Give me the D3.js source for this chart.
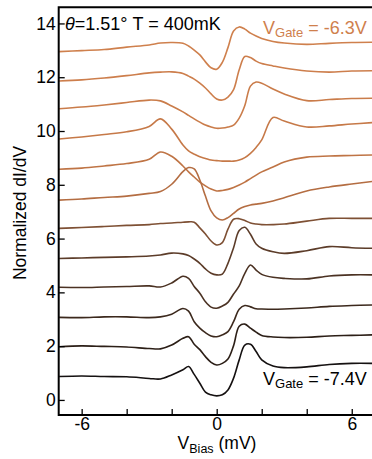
<!DOCTYPE html>
<html><head><meta charset="utf-8">
<script src="https://cdn.jsdelivr.net/npm/d3@7"></script>
<style>
html,body{margin:0;padding:0;background:#fff;}
svg{display:block;font-family:"Liberation Sans",Arial,sans-serif;}
</style></head>
<body><svg id="chart" width="372" height="459"></svg>
<script>
// bias voltage grid (mV)
const bias = [-7,-6,-5,-4,-3,-2.5,-2,-1.5,-1.25,-1,-0.75,-0.5,-0.25,0,0.25,0.5,0.75,1,1.25,1.5,1.75,2,2.5,3,4,5,6,6.9];
// normalized dI/dV (offset), top curve (VGate=-6.3V) to bottom curve (VGate=-7.4V)
const s1  = [12.95,12.99,13.03,13.12,13.20,13.27,13.29,13.26,13.16,13.01,12.83,12.57,12.35,12.30,12.55,13.10,13.72,13.87,13.79,13.64,13.53,13.44,13.33,13.27,13.22,13.26,13.29,13.30];
const s2  = [11.86,11.90,11.97,12.06,12.16,12.19,12.20,12.14,12.04,11.93,11.78,11.60,11.38,11.19,11.15,11.26,11.54,12.28,12.77,12.73,12.60,12.51,12.42,12.34,12.23,12.19,12.23,12.24];
const s3  = [10.83,10.89,10.97,11.06,11.15,11.12,10.93,10.71,10.58,10.45,10.33,10.22,10.15,10.10,10.11,10.15,10.22,10.48,10.95,11.67,11.82,11.78,11.56,11.38,11.13,11.17,11.21,11.22];
const s4  = [9.70,9.78,9.87,9.97,10.17,10.45,10.07,9.48,9.26,9.14,9.04,8.98,8.92,8.90,8.88,8.88,8.88,8.92,9.01,9.17,9.39,9.67,10.50,10.37,10.15,10.19,10.26,10.31];
const s5  = [8.58,8.62,8.70,8.79,8.95,9.22,9.06,8.70,8.48,8.29,8.10,7.96,7.84,7.77,7.79,7.83,7.90,7.99,8.10,8.23,8.36,8.48,8.66,8.85,9.03,9.07,9.09,9.11];
const s6  = [7.43,7.47,7.53,7.58,7.68,7.75,8.02,8.49,8.64,8.59,8.18,7.58,7.03,6.77,6.69,6.78,6.94,7.10,7.19,7.25,7.28,7.31,7.40,7.52,7.77,7.92,8.03,8.12];
const s7  = [6.38,6.41,6.45,6.49,6.52,6.56,6.58,6.61,6.62,6.61,6.40,6.17,5.91,5.76,5.85,6.35,6.72,6.74,6.67,6.58,6.54,6.52,6.52,6.54,6.65,6.75,6.75,6.75];
const s8  = [5.26,5.28,5.30,5.32,5.35,5.39,5.46,5.43,5.37,5.24,5.08,4.87,4.71,4.65,4.68,5.08,5.66,6.30,6.42,6.16,5.80,5.64,5.51,5.45,5.55,5.70,5.66,5.64];
const s9  = [4.19,4.18,4.20,4.22,4.24,4.20,4.35,4.60,4.52,4.22,3.97,3.65,3.45,3.41,3.49,3.63,3.94,4.24,4.71,5.02,4.83,4.67,4.56,4.52,4.50,4.61,4.65,4.65];
const s10 = [3.07,3.06,3.09,3.09,3.06,3.09,3.19,3.40,3.30,2.91,2.67,2.50,2.38,2.35,2.42,2.54,2.91,3.37,3.51,3.46,3.39,3.38,3.37,3.38,3.42,3.48,3.51,3.53];
const s11 = [1.98,2.01,1.99,1.97,1.91,1.90,2.04,2.29,2.35,2.07,1.87,1.61,1.40,1.30,1.36,1.52,2.02,2.74,2.82,2.67,2.52,2.40,2.34,2.32,2.33,2.38,2.40,2.42];
const s12 = [0.87,0.89,0.87,0.86,0.80,0.78,0.93,1.12,1.24,0.95,0.62,0.29,0.19,0.15,0.19,0.37,0.81,1.49,2.04,2.07,1.80,1.49,1.26,1.20,1.23,1.32,1.36,1.36];
const series = [s1,s2,s3,s4,s5,s6,s7,s8,s9,s10,s11,s12];
const xTicks = [-6,-4,-2,0,2,4,6];
const xTickLabels = ["-6","","","0","","","6"];
const yTicks = [0,2,4,6,8,10,12,14];

const colors = ["#cf804d","#cd7e4c","#ca7c4a","#c67948","#bf7445","#b46d42","#7e5034","#5c3c29","#4b3223","#3c291d","#2c1f17","#151111"];

const svg = d3.select("#chart");
const pL = 58.7, pR = 372, pT = 7.3, pB = 415;
const x = d3.scaleLinear().domain([-7.02, 6.9]).range([pL, pR]);
const y = d3.scaleLinear().domain([-0.56, 14.6]).range([pB, pT]);
const font = "17.5px";

// curves
const line = d3.line().x((d,i)=>x(bias[i])).y(d=>y(d)).curve(d3.curveCatmullRom.alpha(0.5));
svg.append("g").selectAll("path").data(series).join("path")
  .attr("d", d=>line(d)).attr("fill","none")
  .attr("stroke",(d,i)=>colors[i]).attr("stroke-width",1.6)
  .attr("stroke-linejoin","round");

// axes
const xAxis = d3.axisBottom(x).tickValues(xTicks).tickSize(-6).tickFormat((d,i)=>xTickLabels[i]).tickPadding(3);
const gx = svg.append("g").attr("transform",`translate(0,${pB})`).call(xAxis);
gx.select(".domain").remove();
gx.selectAll(".tick line").attr("stroke","#000").attr("stroke-width",1.3);
gx.selectAll("text").attr("font-size",font).attr("fill","#000").attr("font-family","Liberation Sans, Arial, sans-serif");

const yAxis = d3.axisLeft(y).tickValues(yTicks).tickSize(-6).tickPadding(3);
const gy = svg.append("g").attr("transform",`translate(${pL},0)`).call(yAxis);
gy.select(".domain").remove();
gy.selectAll(".tick line").attr("stroke","#000").attr("stroke-width",1.3);
gy.selectAll("text").attr("font-size",font).attr("fill","#000").attr("font-family","Liberation Sans, Arial, sans-serif");

// frame
svg.append("path").attr("d",`M${pR+5},${pT}H${pL}V${pB}H${pR+5}`)
  .attr("fill","none").attr("stroke","#000").attr("stroke-width",2);

// labels
const xl = svg.append("text").attr("x",217).attr("y",449).attr("text-anchor","middle").attr("font-size",font);
xl.append("tspan").text("V");
xl.append("tspan").attr("font-size","12.5px").attr("dy",4).text("Bias");
xl.append("tspan").attr("dy",-4).text(" (mV)");

svg.append("text").attr("transform","translate(26,213) rotate(-90)").attr("text-anchor","middle")
  .attr("font-size",font).text("Normalized dI/dV");

const t1 = svg.append("text").attr("x",65).attr("y",29.5).attr("font-size","18px");
t1.append("tspan").attr("font-style","italic").text("θ");
t1.append("tspan").text("=1.51° T = 400mK");

const g1 = svg.append("text").attr("x",263).attr("y",33.5).attr("font-size","18px").attr("fill","#cf804d");
g1.append("tspan").text("V");
g1.append("tspan").attr("font-size","13px").attr("dy",3).text("Gate");
g1.append("tspan").attr("dy",-3).text(" = -6.3V");

const g2 = svg.append("text").attr("x",263).attr("y",385).attr("font-size","18px").attr("fill","#000");
g2.append("tspan").text("V");
g2.append("tspan").attr("font-size","13px").attr("dy",3).text("Gate");
g2.append("tspan").attr("dy",-3).text(" = -7.4V");
</script></body></html>
